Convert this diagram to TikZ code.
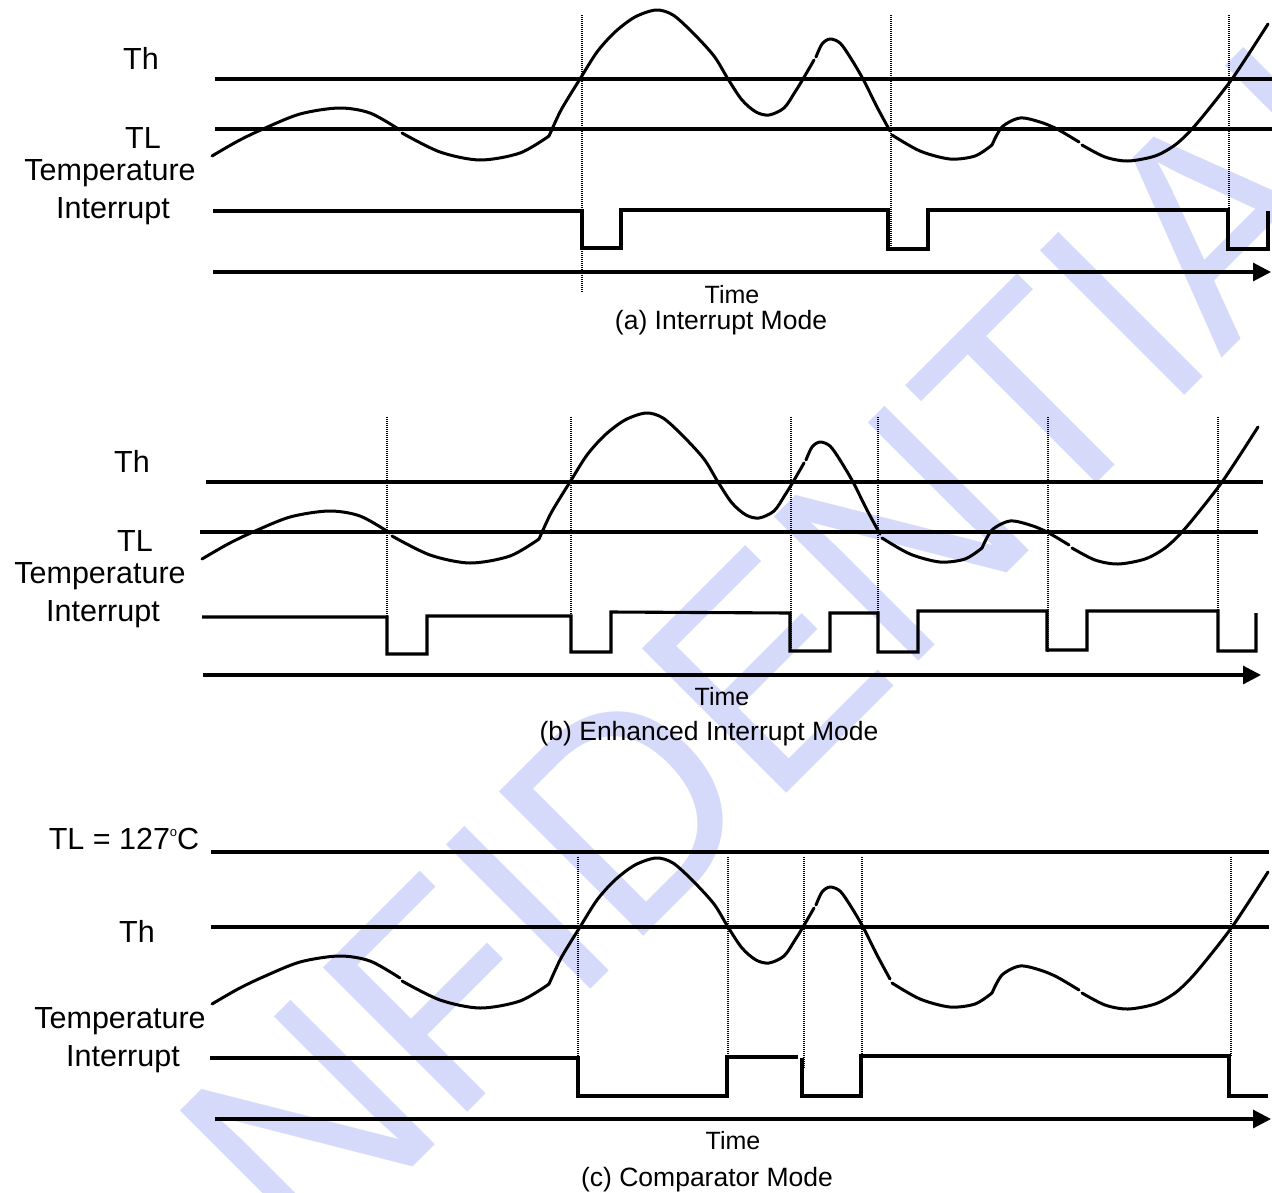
\documentclass[tikz,border=0pt]{standalone}
\usepackage{fontspec}
\setmainfont{Liberation Sans}
\usetikzlibrary{arrows.meta}
\definecolor{wm}{RGB}{214,218,250}
\begin{document}
\begin{tikzpicture}[x=1pt,y=-1pt,
  sig/.style={line width=3.1pt, line join=miter},
  thr/.style={line width=3.1pt},
  curve/.style={line width=3pt, line cap=round, line join=round},
  vguide/.style={line width=1.2pt, dash pattern=on 1pt off 1pt, black},
  axis/.style={line width=3.1pt, -{Triangle[length=18pt,width=18pt]}},
  lbl/.style={font=\fontsize{30.5}{36}\selectfont, anchor=base, inner sep=0pt},
  tlbl/.style={font=\fontsize{25}{30}\selectfont, anchor=base, inner sep=0pt},
  capt/.style={font=\fontsize{26.5}{32}\selectfont, anchor=base, inner sep=0pt},
  wmark/.style={font=\fontsize{280}{300}\selectfont, text=wm, anchor=base, inner sep=0pt, rotate=45}
]
\useasboundingbox (0,0) rectangle (1272,1192);
\clip (0,0) rectangle (1272,1192);
\fill[white] (0,0) rectangle (1272,1192);

% watermark
\node[wmark] (wmtext) at (886,694) {\scalebox{1}[1.06]{NFIDENTIAL}};

% ---------- temperature curves (same shape, shifted) ----------
\foreach \dx/\dy in {0/0,-10/403,0/848}{
\begin{scope}[shift={(\dx,\dy)}]
\draw[curve] plot[smooth] coordinates {(212,156) (238,141) (263,129) (300,114) (339,108) (370,113) (400,130)};
\draw[curve] plot[smooth] coordinates {(402,133) (440,152) (480,160) (520,153) (549,136)};
\draw[curve] plot[smooth] coordinates {(549,136) (560,112) (570,95) (580,79) (597,52) (615,32) (635,17) (656,10) (673,15) (693,33) (714,56) (728,79) (742,100) (756,112) (769,115) (784,108) (795,92) (803,79) (814,60)};
\draw[curve] plot[smooth] coordinates {(816,57) (822,44) (830,39) (840,43) (850,57) (863,79) (877,107) (890,131)};
\draw[curve] plot[smooth] coordinates {(892,135) (920,151) (950,159) (975,156) (992,145)};
\draw[curve] plot[smooth] coordinates {(992,145) (1002,127) (1020,118) (1040,122) (1057,129) (1079,142)};
\draw[curve] plot[smooth] coordinates {(1082,145) (1105,157) (1128,161) (1155,156) (1175,145) (1192,129) (1212,105) (1232,79) (1250,52) (1268,24)};
\end{scope}}

% ---------- (a) Interrupt Mode ----------
\draw[thr] (215,79) -- (1272,79);
\draw[thr] (215,129) -- (1272,129);
\draw[vguide] (582,15) -- (582,293);
\draw[vguide] (891,15) -- (891,249);
\draw[vguide] (1229,15) -- (1229,249);
\draw[sig] (213,211) -- (582,211) -- (582,248) -- (621,248) -- (621,210) -- (888,210) -- (888,249) -- (928,249) -- (928,210) -- (1228,210) -- (1228,249) -- (1268,249) -- (1268,211);
\draw[axis] (213,272) -- (1271,272);
\node[lbl] (aTh) at (141,69) {Th};
\node[lbl] (aTL) at (143,148) {TL};
\node[lbl] (aTemp) at (110,180) {Temperature};
\node[lbl] (aInt) at (113,218) {Interrupt};
\node[tlbl] (aTime) at (732,303) {Time};
\node[capt] (aCap) at (721,329) {(a) Interrupt Mode};

% ---------- (b) Enhanced Interrupt Mode ----------
\draw[thr] (206,482) -- (1263,482);
\draw[thr] (200,532) -- (1258,532);
\foreach \x in {387,571,791,878,1048,1218}{\draw[vguide] (\x,417) -- (\x,652);}
\draw[sig] (202,617) -- (387,617) -- (387,654) -- (427,654) -- (427,616) -- (571,616) -- (571,652) -- (611,652) -- (611,612) -- (790,613) -- (790,651) -- (830,651) -- (830,613) -- (878,613) -- (878,652) -- (918,652) -- (918,611) -- (1047,611) -- (1047,650) -- (1087,650) -- (1087,611) -- (1218,611) -- (1218,651) -- (1256,651) -- (1256,613);
\draw[axis] (203,675) -- (1261,675);
\node[lbl] (bTh) at (132,472) {Th};
\node[lbl] (bTL) at (135,551) {TL};
\node[lbl] (bTemp) at (100,583) {Temperature};
\node[lbl] (bInt) at (103,621) {Interrupt};
\node[tlbl] (bTime) at (722,705) {Time};
\node[capt] (bCap) at (709,740) {(b) Enhanced Interrupt Mode};

% ---------- (c) Comparator Mode ----------
\draw[thr] (211,852) -- (1269,852);
\draw[thr] (211,927) -- (1269,927);
\draw[vguide] (578,857) -- (578,1058);
\draw[vguide] (728,857) -- (728,1057);
\draw[vguide] (804,857) -- (804,1068);
\draw[vguide] (862,857) -- (862,1057);
\draw[vguide] (1231,857) -- (1231,1057);
\draw[sig] (210,1058) -- (578,1058) -- (578,1096) -- (727,1096) -- (727,1057) -- (798,1057);
\draw[sig] (802,1058) -- (802,1096) -- (861,1096) -- (861,1056) -- (1229,1056) -- (1229,1096) -- (1268,1096);
\draw[axis] (215,1119) -- (1271,1119);
\node[lbl] (cTL) at (124,849) {TL = 127\raisebox{13pt}{\fontsize{13}{13}\selectfont o}C};
\node[lbl] (cTh) at (137,942) {Th};
\node[lbl] (cTemp) at (120,1028) {Temperature};
\node[lbl] (cInt) at (123,1066) {Interrupt};
\node[tlbl] (cTime) at (733,1149) {Time};
\node[capt] (cCap) at (707,1186) {(c) Comparator Mode};
\end{tikzpicture}
\end{document}
